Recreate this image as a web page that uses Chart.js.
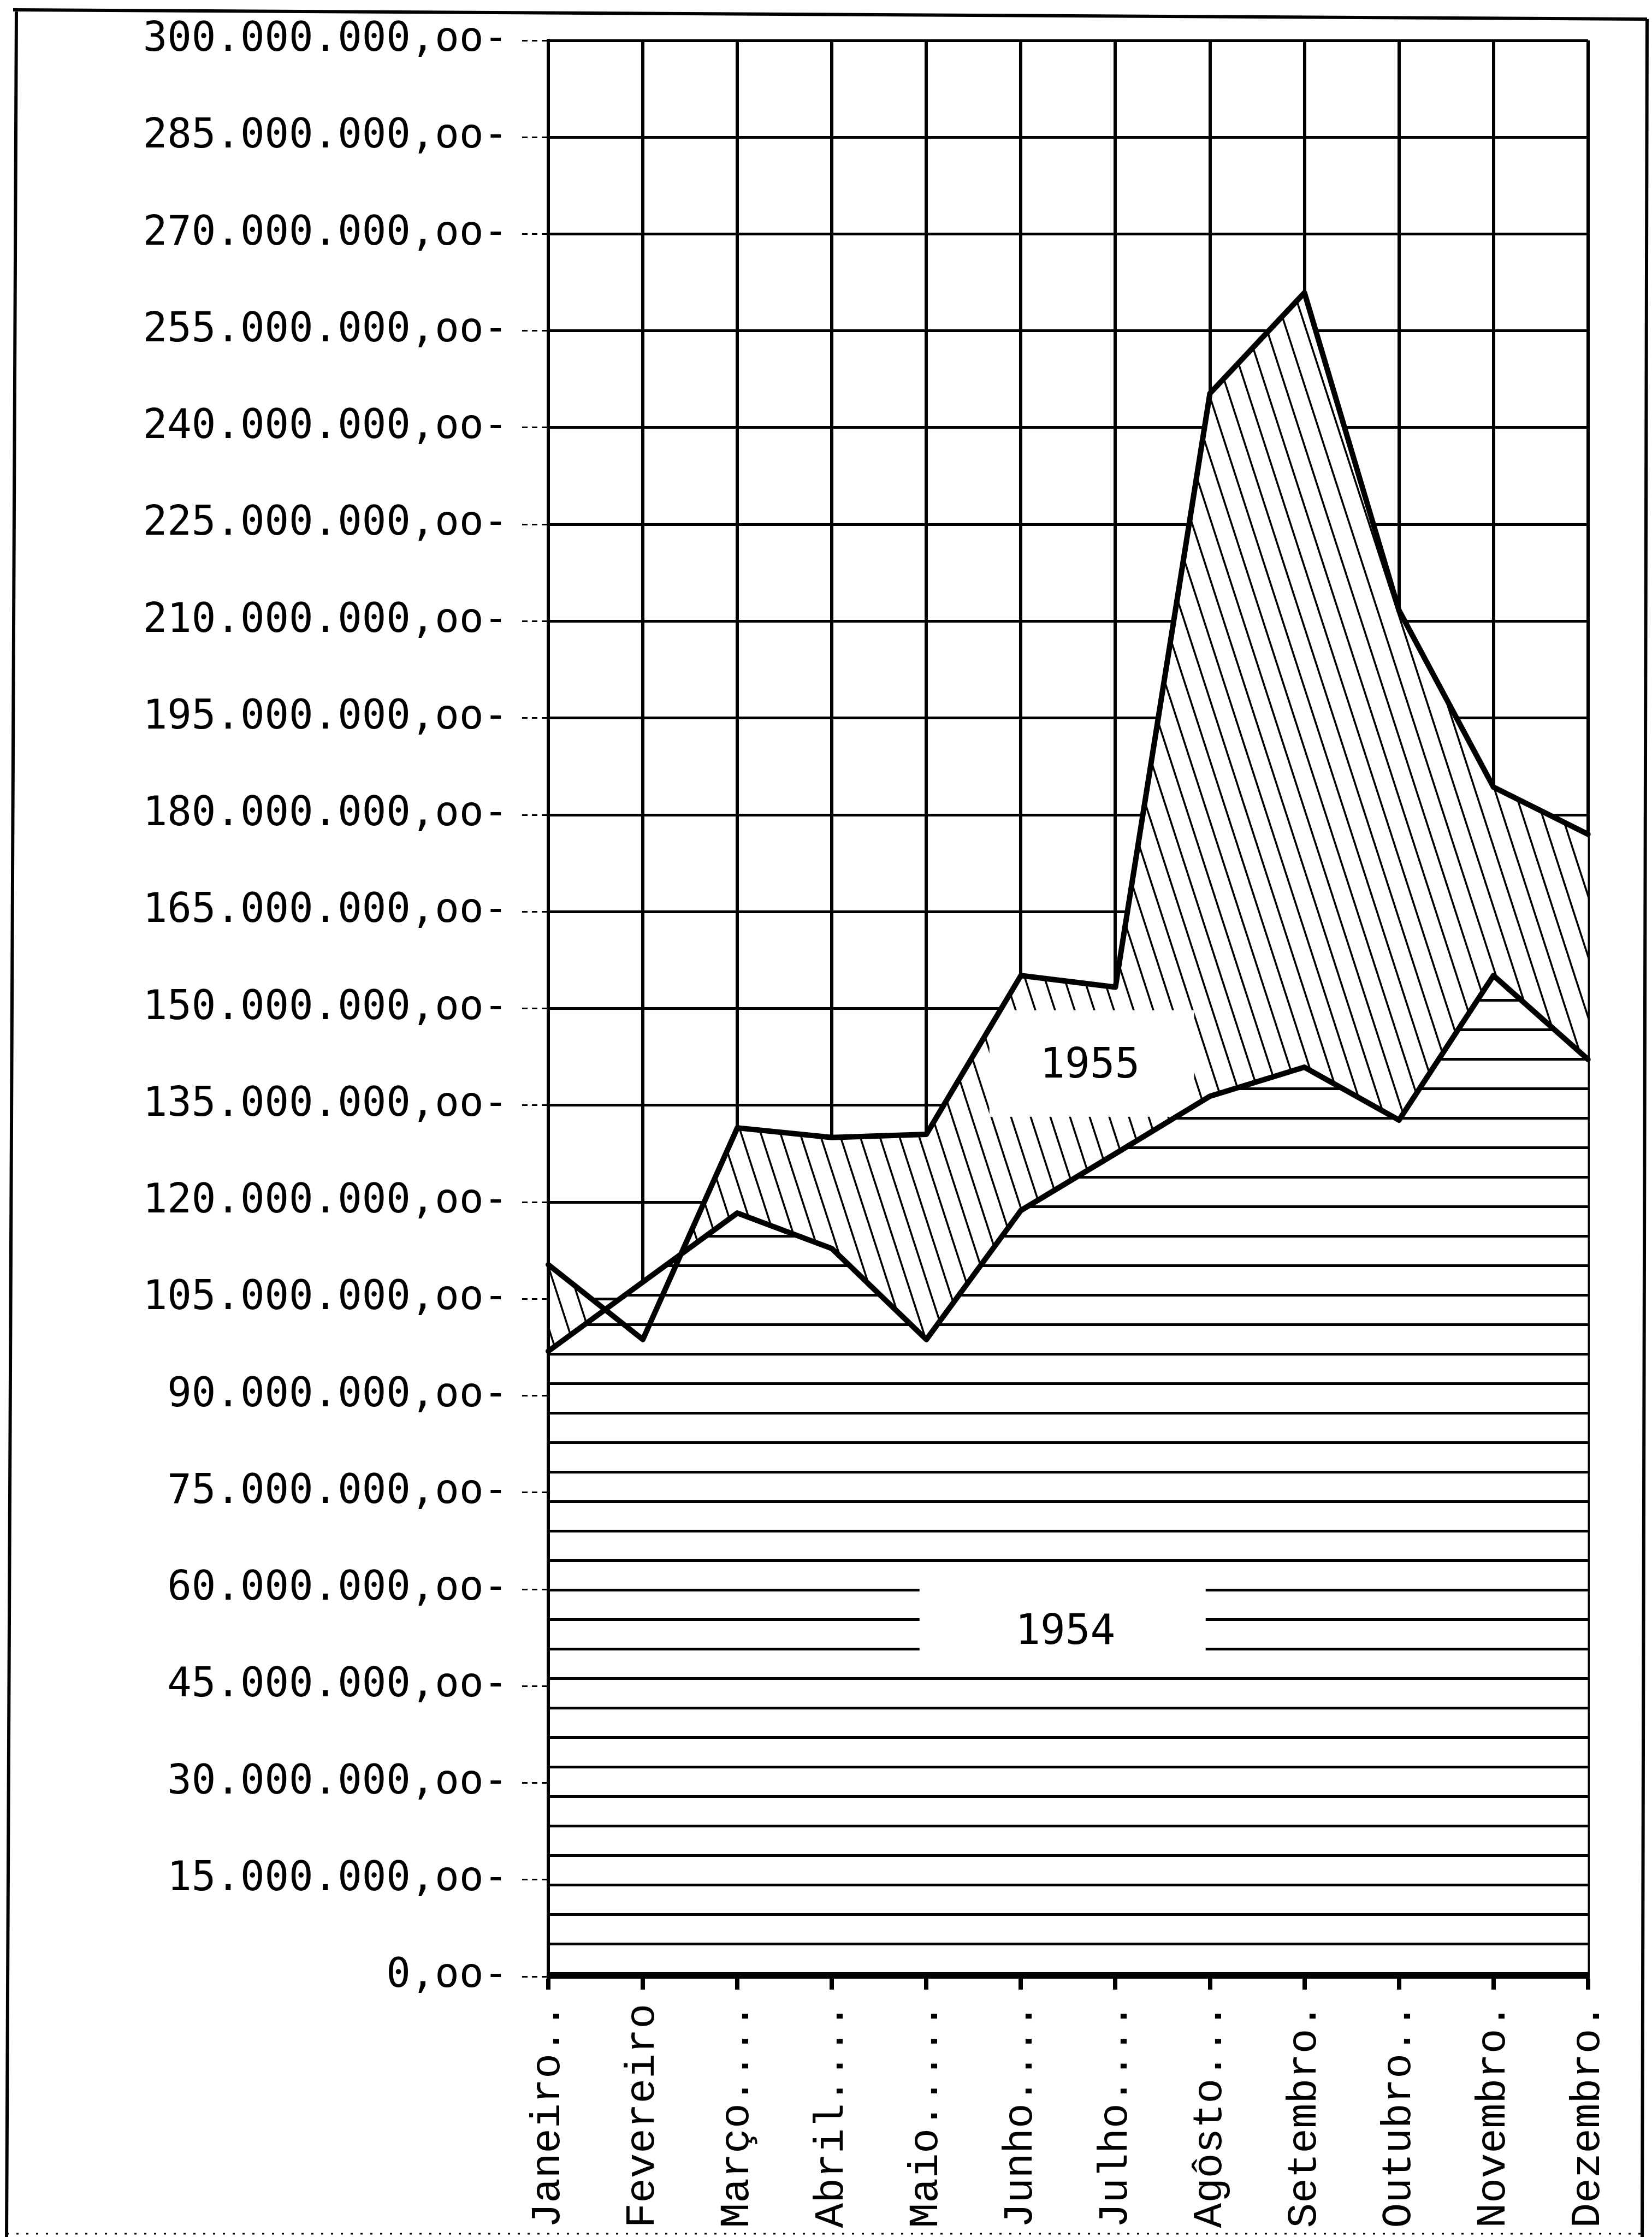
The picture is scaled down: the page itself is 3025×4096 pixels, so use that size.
<!DOCTYPE html>
<html>
<head>
<meta charset="utf-8">
<script src="https://cdn.jsdelivr.net/npm/chart.js@4.4.1/dist/chart.umd.min.js"></script>
<style>
html,body{margin:0;padding:0;background:#fff;}
canvas{display:block;}
</style>
</head>
<body>
<canvas id="c" width="3025" height="4096"></canvas>
<script>
// ---- data ----
const months = ['Janeiro..','Fevereiro','Março....','Abril....','Maio.....','Junho....','Julho....','Agôsto...','Setembro.','Outubro..','Novembro.','Dezembro.'];
const values1954 = [96900000,107600000,118300000,112800000,98700000,118700000,127500000,136400000,140900000,132700000,155100000,142100000];
const values1955 = [110300000,98700000,131500000,130000000,130500000,155100000,153300000,245300000,260900000,211700000,184300000,177000000];
const yTickLabels = ['0,oo-','15.000.000,oo-','30.000.000,oo-','45.000.000,oo-','60.000.000,oo-','75.000.000,oo-','90.000.000,oo-','105.000.000,oo-','120.000.000,oo-','135.000.000,oo-','150.000.000,oo-','165.000.000,oo-','180.000.000,oo-','195.000.000,oo-','210.000.000,oo-','225.000.000,oo-','240.000.000,oo-','255.000.000,oo-','270.000.000,oo-','285.000.000,oo-','300.000.000,oo-'];
const seriesNames = ['1954','1955'];

// ---- hatch patterns ----
const canvas = document.getElementById('c');
const mainCtx = canvas.getContext('2d');

function horizontalHatch(){
  const t = document.createElement('canvas');
  t.width = 16; t.height = 54;
  const g = t.getContext('2d');
  g.fillStyle = '#fff'; g.fillRect(0,0,16,54);
  g.fillStyle = '#000'; g.fillRect(0,47,16,5);
  return mainCtx.createPattern(t,'repeat');
}
function diagonalHatch(){
  const w = 36, h = 111;
  const t = document.createElement('canvas');
  t.width = w; t.height = h;
  const g = t.getContext('2d');
  g.fillStyle = '#fff'; g.fillRect(0,0,w,h);
  g.strokeStyle = '#000'; g.lineWidth = 3.5;
  const k = w / h;
  for (const x0 of [-w, 0, w]) {
    g.beginPath();
    g.moveTo(x0 - 10*k, -10);
    g.lineTo(x0 + w + 10*k, h + 10);
    g.stroke();
  }
  return mainCtx.createPattern(t,'repeat');
}

// ---- plugins ----
const seriesLabelPlugin = {
  id: 'seriesLabels',
  beforeDatasetsDraw(chart){
    const {ctx, scales:{x, y}} = chart;
    const items = [
      {text: seriesNames[1], xi: 5.73, yv: 141000000, box: [-184, 191, -103, 92]},
      {text: seriesNames[0], xi: 5.47, yv: 53200000, box: [-267, 257, -97, 60]}
    ];
    ctx.save();
    for (const it of items) {
      const cx = x.getPixelForValue(it.xi);
      const cy = y.getPixelForValue(it.yv);
      ctx.fillStyle = '#fff';
      ctx.fillRect(cx + it.box[0], cy + it.box[2], it.box[1] - it.box[0], it.box[3] - it.box[2]);
      ctx.fillStyle = '#000';
      ctx.font = '76px "DejaVu Sans Mono", monospace';
      ctx.textAlign = 'center';
      ctx.textBaseline = 'middle';
      ctx.fillText(it.text, cx, cy);
    }
    ctx.restore();
  }
};

const pageBorderPlugin = {
  id: 'pageBorder',
  afterDraw(chart){
    const ctx = chart.ctx;
    ctx.save();
    ctx.strokeStyle = '#000';
    ctx.lineWidth = 6;
    ctx.beginPath();
    ctx.moveTo(24, 18); ctx.lineTo(3016, 35);
    ctx.moveTo(30, 18); ctx.lineTo(12, 4096);
    ctx.moveTo(3016, 35); ctx.lineTo(3007, 4096);
    ctx.stroke();
    ctx.lineWidth = 3;
    ctx.setLineDash([4, 14]);
    ctx.beginPath();
    ctx.moveTo(12, 4090); ctx.lineTo(3007, 4090);
    ctx.stroke();
    ctx.restore();
  }
};

new Chart(mainCtx, {
  type: 'line',
  data: {
    labels: months,
    datasets: [
      {label: seriesNames[0], data: values1954, borderColor: '#000', borderWidth: 10, pointRadius: 0, tension: 0,
       borderJoinStyle: 'round', borderCapStyle: 'round', fill: 'origin', backgroundColor: horizontalHatch()},
      {label: seriesNames[1], data: values1955, borderColor: '#000', borderWidth: 10, pointRadius: 0, tension: 0,
       borderJoinStyle: 'round', borderCapStyle: 'round', fill: '-1', backgroundColor: diagonalHatch()}
    ]
  },
  options: {
    responsive: false,
    animation: false,
    devicePixelRatio: 1,
    events: [],
    layout: {padding: {left: 0, right: 62, top: 74, bottom: 0}},
    plugins: {
      legend: {display: false},
      tooltip: {enabled: false},
      filler: {drawTime: 'beforeDatasetsDraw', propagate: false}
    },
    scales: {
      x: {
        type: 'category',
        offset: false,
        grid: {color: '#000', lineWidth: 6, tickLength: 24, tickWidth: 8, tickColor: '#000'},
        border: {display: true, color: '#000', width: 7, z: 1},
        ticks: {color: '#000', font: {family: '"Liberation Mono", "Courier New", monospace', size: 76},
                minRotation: 90, maxRotation: 90, autoSkip: false, padding: 26},
        afterFit(s){ s.height = 477; }
      },
      y: {
        min: 0, max: 300000000,
        grid: {color: '#000', lineWidth: 5, tickLength: 48, tickWidth: 3, tickColor: '#000', tickBorderDash: [10, 8]},
        border: {display: true, color: '#000', width: 6, z: 1},
        ticks: {stepSize: 15000000, autoSkip: false, color: '#000',
                font: {family: '"DejaVu Sans Mono", monospace', size: 74}, padding: 26,
                callback: (v, i) => yTickLabels[i]},
        afterFit(s){ s.width = 1004; }
      }
    }
  },
  plugins: [seriesLabelPlugin, pageBorderPlugin]
});
</script>
</body>
</html>
